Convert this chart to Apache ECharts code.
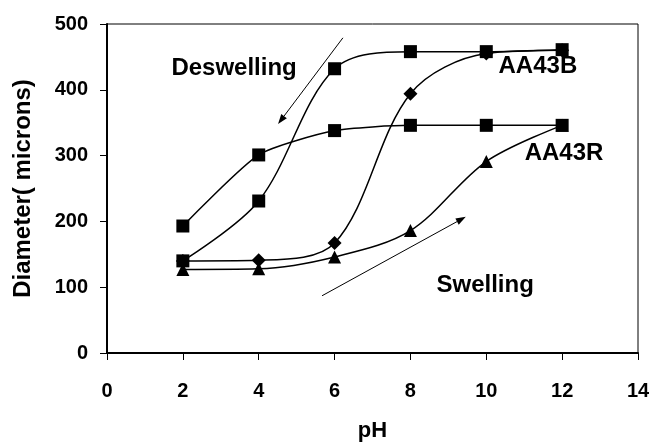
<!DOCTYPE html>
<html>
<head>
<meta charset="utf-8">
<script src="https://cdn.jsdelivr.net/npm/echarts@6/dist/echarts.min.js"></script>
<style>html,body{margin:0;padding:0;background:#fff}#c{width:652px;height:442px}</style>
</head>
<body>
<div id="c"></div>
<script>
var pH = [2, 4, 6, 8, 10, 12];
var bDeswell = [140, 231, 432, 458, 458, 461];
var rDeswell = [193, 301, 338, 346, 346, 346];
var bSwell = [140, 141, 167, 394, 455, 460];
var rSwell = [127, 128, 146, 186, 291, 346];
var xTicks = [0, 2, 4, 6, 8, 10, 12, 14];
var yTicks = [0, 100, 200, 300, 400, 500];
var labels = [
  {text: 'Deswelling', x: 3.35, y: 432},
  {text: 'AA43B', x: 11.36, y: 435},
  {text: 'AA43R', x: 12.05, y: 303},
  {text: 'Swelling', x: 9.97, y: 103}
];
var arrows = [
  [[6.22, 479], [4.51, 348]],
  [[5.67, 87], [9.46, 207]]
];

function pairs(ys) { return pH.map(function (x, i) { return [x, ys[i]]; }); }
var FONT = '"Liberation Sans", Arial, sans-serif';

function lineSeries(name, ys, symbol, size, smooth) {
  return {
    name: name, type: 'line', data: pairs(ys), smooth: smooth,
    symbol: symbol, symbolSize: size,
    lineStyle: {color: '#000', width: 1.5},
    itemStyle: {color: '#000'},
    z: 3
  };
}

var chart = echarts.init(document.getElementById('c'));
var option = {
  animation: false,
  grid: {left: 107, right: 14, top: 24, bottom: 89, show: true, borderColor: '#000', borderWidth: 1,
         containLabel: false, outerBoundsMode: 'none'},
  xAxis: {
    type: 'value', min: xTicks[0], max: xTicks[xTicks.length - 1], interval: 2,
    name: 'pH', nameLocation: 'middle', nameGap: 67,
    nameTextStyle: {fontFamily: FONT, fontWeight: 'bold', fontSize: 22, color: '#000'},
    axisLine: {lineStyle: {color: '#000', width: 2}},
    axisTick: {show: true, length: 7, lineStyle: {color: '#000', width: 1}},
    axisLabel: {fontFamily: FONT, fontWeight: 'bold', fontSize: 20, color: '#000', margin: 28},
    splitLine: {show: false}
  },
  yAxis: {
    type: 'value', min: yTicks[0], max: yTicks[yTicks.length - 1], interval: 100,
    name: 'Diameter( microns)', nameLocation: 'middle', nameGap: 72,
    nameTextStyle: {fontFamily: FONT, fontWeight: 'bold', fontSize: 24, color: '#000'},
    axisLine: {lineStyle: {color: '#000', width: 2}},
    axisTick: {show: true, length: 7, lineStyle: {color: '#000', width: 1}},
    axisLabel: {fontFamily: FONT, fontWeight: 'bold', fontSize: 20, color: '#000', margin: 19},
    splitLine: {show: false}
  },
  series: [
    lineSeries('AA43B deswelling', bDeswell, 'rect', 13, 0.33),
    lineSeries('AA43R deswelling', rDeswell, 'rect', 13, 0.2),
    lineSeries('AA43B swelling', bSwell, 'diamond', 14, 0.33),
    lineSeries('AA43R swelling', rSwell, 'triangle', 13, 0.33)
  ]
};
chart.setOption(option);

var g = [];
labels.forEach(function (l) {
  var p = chart.convertToPixel({gridIndex: 0}, [l.x, l.y]);
  g.push({
    type: 'text', x: p[0], y: p[1], z: 10,
    style: {text: l.text, fill: '#000', font: 'bold 24px ' + FONT, align: 'center', verticalAlign: 'middle'}
  });
});
arrows.forEach(function (a) {
  var s = chart.convertToPixel({gridIndex: 0}, a[0]);
  var e = chart.convertToPixel({gridIndex: 0}, a[1]);
  var dx = e[0] - s[0], dy = e[1] - s[1];
  var len = Math.sqrt(dx * dx + dy * dy);
  var ux = dx / len, uy = dy / len;
  var hl = 10, hw = 3.5;
  var bx = e[0] - ux * hl, by = e[1] - uy * hl;
  g.push({
    type: 'line', z: 10,
    shape: {x1: s[0], y1: s[1], x2: bx, y2: by},
    style: {stroke: '#000', lineWidth: 1}
  });
  g.push({
    type: 'polygon', z: 10,
    shape: {points: [[e[0], e[1]], [bx - uy * hw, by + ux * hw], [bx + uy * hw, by - ux * hw]]},
    style: {fill: '#000'}
  });
});
chart.setOption({graphic: g});
</script>
</body>
</html>
